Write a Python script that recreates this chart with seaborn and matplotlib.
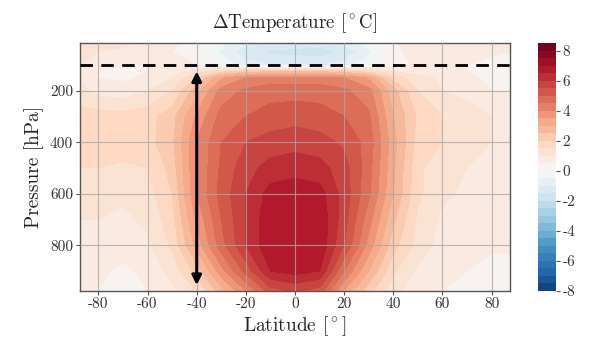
import numpy as np
import matplotlib
matplotlib.use("Agg")
import matplotlib.pyplot as plt
import seaborn as sns

# ---- data ----
lats = [-87.5, -80, -70, -60, -50, -40, -30, -20, -10, 0, 10, 20, 30, 40, 50, 60, 70, 80, 87.5]
pressures = [16, 50, 100, 125, 150, 200, 300, 400, 500, 600, 700, 800, 900, 976]

p16 = [1.3, 1.2, 1.1, 0.9, 0.6, 0.2, -0.4, -0.9, -1.2, -1.2, -1.3, -0.9, -0.3, 0.4, 0.9, 1.0, 0.9, 0.8, 0.7]
p50 = [1.2, 1.0, 0.9, 0.8, 0.5, 0.1, -0.6, -1.3, -1.6, -1.7, -1.8, -1.4, -0.6, 0.3, 0.8, 0.9, 0.8, 0.6, 0.5]
p100 = [1.0, 0.6, 0.5, 0.5, 0.6, 0.5, -0.1, -0.8, -1.0, -1.0, -1.0, -0.8, -0.2, 0.3, 0.6, 0.7, 0.5, 0.3, 0.3]
p125 = [0.9, 0.5, 0.4, 0.5, 0.8, 1.2, 1.8, 2.2, 2.4, 2.4, 2.4, 2.2, 1.8, 1.0, 0.8, 0.7, 0.5, 0.3, 0.3]
p150 = [0.9, 0.5, 0.4, 0.6, 1.0, 2.0, 3.4, 4.0, 4.2, 4.2, 4.2, 4.0, 3.4, 1.8, 1.2, 0.9, 0.6, 0.4, 0.4]
p200 = [1.2, 0.8, 0.7, 1.0, 1.5, 2.8, 4.2, 4.6, 4.8, 4.8, 4.8, 4.6, 4.2, 2.7, 1.5, 1.0, 0.8, 0.5, 0.5]
p300 = [1.7, 1.7, 1.7, 1.8, 2.3, 3.6, 4.7, 5.0, 5.2, 5.3, 5.2, 5.0, 4.6, 3.0, 1.9, 1.5, 1.3, 1.0, 0.9]
p400 = [1.8, 1.9, 1.8, 1.8, 2.4, 4.0, 5.0, 5.5, 5.7, 5.8, 5.7, 5.4, 4.8, 3.2, 1.8, 1.5, 1.4, 1.0, 0.9]
p500 = [1.5, 1.5, 1.4, 1.5, 2.2, 4.0, 5.1, 5.8, 6.2, 6.3, 6.2, 5.7, 4.7, 3.1, 1.6, 1.2, 1.0, 0.9, 0.8]
p600 = [1.2, 1.2, 1.1, 1.3, 2.0, 4.0, 5.2, 6.0, 6.7, 6.8, 6.7, 5.8, 4.6, 3.0, 1.6, 1.1, 0.9, 0.8, 0.8]
p700 = [1.0, 1.0, 0.9, 1.1, 1.8, 3.6, 5.0, 6.0, 6.9, 7.0, 6.9, 5.7, 4.2, 2.6, 1.4, 0.9, 0.8, 0.7, 0.7]
p800 = [0.8, 0.8, 0.7, 0.9, 1.6, 3.2, 4.8, 6.0, 6.9, 7.0, 6.9, 5.5, 3.8, 2.2, 1.3, 0.8, 0.7, 0.6, 0.6]
p900 = [0.6, 0.6, 0.4, 0.6, 1.2, 2.2, 3.8, 5.2, 6.5, 6.7, 6.5, 4.5, 3.0, 1.6, 0.9, 0.6, 0.5, 0.3, 0.3]
p976 = [0.5, 0.5, 0.3, 0.5, 0.9, 1.5, 2.8, 4.0, 5.3, 5.6, 5.3, 3.5, 2.2, 1.2, 0.7, 0.5, 0.4, 0.2, 0.2]

x_ticks = [-80, -60, -40, -20, 0, 20, 40, 60, 80]
y_ticks = [200, 400, 600, 800]
cbar_ticks = [-8, -6, -4, -2, 0, 2, 4, 6, 8]
tropopause = 100
arrow_lat = -40
arrow_top, arrow_bottom = 125, 955

title = r"$\Delta$Temperature [$^\circ$C]"
xlabel = r"Latitude [$^\circ$]"
ylabel = "Pressure [hPa]"

# ---- style ----
sns.set_style("ticks")
plt.rcParams["font.family"] = ["serif"]
plt.rcParams["font.serif"] = ["cmr10", "DejaVu Serif"]
plt.rcParams["mathtext.fontset"] = "cm"
plt.rcParams["axes.unicode_minus"] = False
plt.rcParams["axes.formatter.use_mathtext"] = False

field = np.array([p16, p50, p100, p125, p150, p200, p300, p400, p500,
                  p600, p700, p800, p900, p976])
LAT, P = np.meshgrid(lats, pressures)

cmap = sns.color_palette("RdBu_r", as_cmap=True)
levels = np.arange(-8, 8.75, 0.5)

fig = plt.figure(figsize=(5.9, 3.38), dpi=100)
ax = fig.add_axes([0.1356, 0.1405, 0.7288, 0.7313])
cax = fig.add_axes([0.912, 0.1405, 0.030, 0.7313])

cf = ax.contourf(LAT, P, field, levels=levels, cmap=cmap, vmin=-8.5, vmax=8.5)
ax.set_ylim(max(pressures), min(pressures))
ax.set_xlim(min(lats), max(lats))
ax.set_xticks(x_ticks)
ax.set_yticks(y_ticks)
ax.set_xticklabels([str(v) for v in x_ticks])
ax.set_yticklabels([str(v) for v in y_ticks])
ax.grid(True, color="#a8a8a8", lw=0.8, alpha=0.8)
ax.set_axisbelow(False)
for s in ax.spines.values():
    s.set_color("#555555")
    s.set_linewidth(1.0)
ax.tick_params(labelsize=11, length=3, color="#555555", labelcolor="#333333", pad=2)

ax.axhline(tropopause, color="black", lw=2.0, dashes=(4.5, 3.0), zorder=5)
ax.annotate("", xy=(arrow_lat, arrow_top), xytext=(arrow_lat, arrow_bottom),
            arrowprops=dict(arrowstyle="<|-|>", color="black", lw=2.2,
                            mutation_scale=14, shrinkA=0, shrinkB=0), zorder=6)

ax.set_title(title, fontsize=13.5, pad=11, color="#222222")
ax.set_xlabel(xlabel, fontsize=14, labelpad=2, color="#222222")
ax.set_ylabel(ylabel, fontsize=14, labelpad=4, color="#222222")

cb = fig.colorbar(cf, cax=cax, ticks=cbar_ticks)
cb.outline.set_visible(False)
cb.ax.set_yticklabels([str(v) for v in cbar_ticks])
cb.ax.tick_params(labelsize=11, length=3, color="#555555", labelcolor="#333333", pad=2)

fig.savefig("out.png", dpi=100)
